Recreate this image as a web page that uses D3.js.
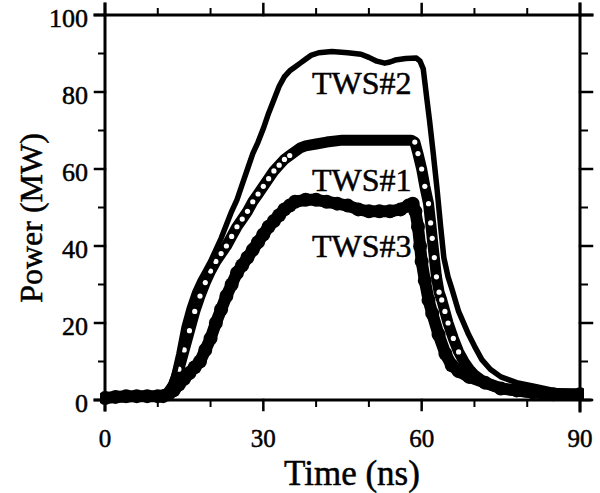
<!DOCTYPE html>
<html>
<head>
<meta charset="utf-8">
<script src="https://cdn.jsdelivr.net/npm/d3@7/dist/d3.min.js"></script>
<style>
  html, body { margin: 0; padding: 0; background: #fff; }
  svg { display: block; }
  text { font-family: "Liberation Serif", "Times New Roman", serif; fill: #000; stroke: #000; stroke-width: 0.5px; }
</style>
</head>
<body>
<svg id="chart" width="600" height="493"></svg>
<script>
// ---- data ----
const seriesNames = ["TWS#1", "TWS#2", "TWS#3"];

const timeTWS1 = [0,2,4,6,8,10,11,12,13,14,15,16,17,18,19,20,21,22,23,24,25,26,27,28,29,30,31,32,33,34,35,36,37,38,40,42,45,48,51,54,56,58,58.7,59.3,60,60.6,61.3,61.7,62,62.4,62.8,63.3,63.8,64.4,65,66,67,68,69,70,72,74,77,80,85,90];
const powerTWS1 = [0.5,0.8,0.8,1,1,1,1.2,2,4,8,13,18,23,27,30.5,33.5,36,38,40,42.5,45,47,49,51.5,53.5,55.5,57.5,59.5,61,62.5,63.5,64.5,65.5,66,66.5,67,67.5,67.5,67.5,67.5,67.5,67.5,67,64,60,55.5,51,46,42,37,32,28,26,23,20,16,12.5,10,8,6.5,4.5,3.5,2.5,2,1.5,1.5];

const timeTWS2 = [0,2,4,6,8,10,11,12,13,14,15,16,17,18,19,20,21,22,23,24,25,26,27,28,29,30,31,32,33,34,35,36,37,38,39,40.5,43,46,48.5,50,51.5,53,54,55,57,59,59.7,60.3,61,61.5,62.2,62.9,63.6,64.2,65,65.7,67,68.9,70,71.4,73,75,78,81.5,85,90];
const powerTWS2 = [1,1,1,1.2,1,1.2,1.5,2.5,6,12,19,24,28,31,33.5,36,39,42,45.5,49,52,56,60,64,67,70.5,74.5,78,81.5,84,85.5,86.5,87.5,88.5,89.5,90.2,90.5,90.2,89.8,89,88,87.5,87.8,88.3,88.7,88.8,88,86,78,72.5,64,55,45,37,32,29,23,17,14,10.5,8,6,4.5,3.5,2.5,2];

const timeTWS3 = [0,2,4,6,8,10,11,12,13,14,15,16,17,18,19,20,21,22,23,24,25,26,27,28,29,30,31,32,33,34,35,36,38,40,42,44,46,48,50,52,54,56,57.5,58.3,58.8,59.3,59.7,60,60.6,61.3,62,63.2,64.5,65.7,67,69,72,75,78,81,85,90];
const powerTWS3 = [0.5,0.8,1,1,1,1,1,1.5,2.5,4,5.5,7,8.5,10,13,16,20,23.5,27,30,33,35,37,39,41,43,45,46.5,48,49.5,50.5,51.5,52,52,51.5,51,50.5,49.5,49,49,49,49.5,50.5,51,49,45,40,36,31,26,22.5,17,12,9,7.5,6,4.5,3,2.5,2,1.5,1.5];

const xTicks = [0, 30, 60, 90];
const xMinorTicks = [10, 20, 40, 50, 70, 80];
const yTicks = [0, 20, 40, 60, 80, 100];
const yMinorTicks = [10, 30, 50, 70, 90];

const labelPositions = [ // [name, time, power] anchor points for in-plot labels
  ["TWS#2", 39.2, 79.5],
  ["TWS#1", 39.2, 54.2],
  ["TWS#3", 39.2, 37.2]
];

// ---- layout ----
const svg = d3.select("#chart");
const x = d3.scaleLinear().domain([0, 90]).range([105, 580]);
const y = d3.scaleLinear().domain([0, 100]).range([400, 15]);

const zip = (ts, ps) => ts.map((t, i) => ({ t, p: ps[i] }));
const d1 = zip(timeTWS1, powerTWS1);
const d2 = zip(timeTWS2, powerTWS2);
const d3s = zip(timeTWS3, powerTWS3);

const line = d3.line().x(d => x(d.t)).y(d => y(d.p)).curve(d3.curveLinear);

svg.append("defs").append("clipPath").attr("id", "clip")
  .append("rect").attr("x", 100).attr("y", 10).attr("width", 484).attr("height", 396);

const plot = svg.append("g").attr("clip-path", "url(#clip)");

// TWS#3 : thick filled markers
plot.append("path").datum(d3s).attr("d", line)
  .attr("fill", "none").attr("stroke", "#000").attr("stroke-width", 12)
  .attr("stroke-linejoin", "round").attr("stroke-linecap", "round");
plot.selectAll("circle.s3").data(d3s).enter().append("circle")
  .attr("class", "s3").attr("cx", d => x(d.t)).attr("cy", d => y(d.p)).attr("r", 7)
  .attr("fill", "#000");

// TWS#1 : open circles on a thick trace
plot.append("path").datum(d1).attr("d", line)
  .attr("fill", "none").attr("stroke", "#000").attr("stroke-width", 11)
  .attr("stroke-linejoin", "round").attr("stroke-linecap", "round");
plot.selectAll("circle.s1").data(d1.filter(d => (d.t > 13 && d.t < 36) || (d.t > 58.5 && d.t < 68)))
  .enter().append("circle")
  .attr("class", "s1").attr("cx", d => x(d.t)).attr("cy", d => y(d.p)).attr("r", 2.6)
  .attr("fill", "#fff");

// TWS#2 : solid line
plot.append("path").datum(d2).attr("d", line)
  .attr("fill", "none").attr("stroke", "#000").attr("stroke-width", 5.5)
  .attr("stroke-linejoin", "round").attr("stroke-linecap", "round");

// ---- frame and ticks ----
const frame = svg.append("g").attr("stroke", "#000").attr("stroke-linecap", "square");
frame.append("line").attr("x1", x(0)).attr("x2", x(0)).attr("y1", 4).attr("y2", 410).attr("stroke-width", 3);
frame.append("line").attr("x1", x(90)).attr("x2", x(90)).attr("y1", 4).attr("y2", 411).attr("stroke-width", 3);
frame.append("line").attr("x1", 95).attr("x2", 592).attr("y1", y(100)).attr("y2", y(100)).attr("stroke-width", 3);
frame.append("line").attr("x1", 95).attr("x2", 590).attr("y1", y(0)).attr("y2", y(0)).attr("stroke-width", 3);

xTicks.forEach(v => {
  frame.append("line").attr("x1", x(v)).attr("x2", x(v)).attr("y1", y(0)).attr("y2", y(0) + 10).attr("stroke-width", 2.5);
  frame.append("line").attr("x1", x(v)).attr("x2", x(v)).attr("y1", y(100)).attr("y2", y(100) - 11).attr("stroke-width", 2.5);
});
xMinorTicks.forEach(v => {
  frame.append("line").attr("x1", x(v)).attr("x2", x(v)).attr("y1", y(0)).attr("y2", y(0) + 6).attr("stroke-width", 2);
  frame.append("line").attr("x1", x(v)).attr("x2", x(v)).attr("y1", y(100)).attr("y2", y(100) - 6).attr("stroke-width", 2);
});
yTicks.forEach(v => {
  frame.append("line").attr("x1", x(0) - 10).attr("x2", x(0)).attr("y1", y(v)).attr("y2", y(v)).attr("stroke-width", 2.5);
  frame.append("line").attr("x1", x(90)).attr("x2", x(90) + 12).attr("y1", y(v)).attr("y2", y(v)).attr("stroke-width", 2.5);
});
yMinorTicks.forEach(v => {
  frame.append("line").attr("x1", x(0) - 6).attr("x2", x(0)).attr("y1", y(v)).attr("y2", y(v)).attr("stroke-width", 2);
  frame.append("line").attr("x1", x(90)).attr("x2", x(90) + 7).attr("y1", y(v)).attr("y2", y(v)).attr("stroke-width", 2);
});

// tick labels
svg.append("g").selectAll("text").data(xTicks).enter().append("text")
  .attr("x", d => x(d)).attr("y", 447)
  .attr("text-anchor", "middle").attr("font-size", 25).text(d => d);
svg.append("g").selectAll("text").data(yTicks).enter().append("text")
  .attr("x", 88).attr("y", d => y(d)).attr("dy", "0.45em")
  .attr("text-anchor", "end").attr("font-size", 26).text(d => d);

// axis titles
svg.append("text").attr("x", 352).attr("y", 485).attr("text-anchor", "middle")
  .attr("font-size", 35).text("Time (ns)");
svg.append("text").attr("transform", "translate(42,218) rotate(-90)")
  .attr("text-anchor", "middle").attr("font-size", 32).text("Power (MW)");

// series labels
svg.append("g").selectAll("text").data(labelPositions).enter().append("text")
  .attr("x", d => x(d[1])).attr("y", d => y(d[2]))
  .attr("font-size", 32).text(d => d[0]);
</script>
</body>
</html>
